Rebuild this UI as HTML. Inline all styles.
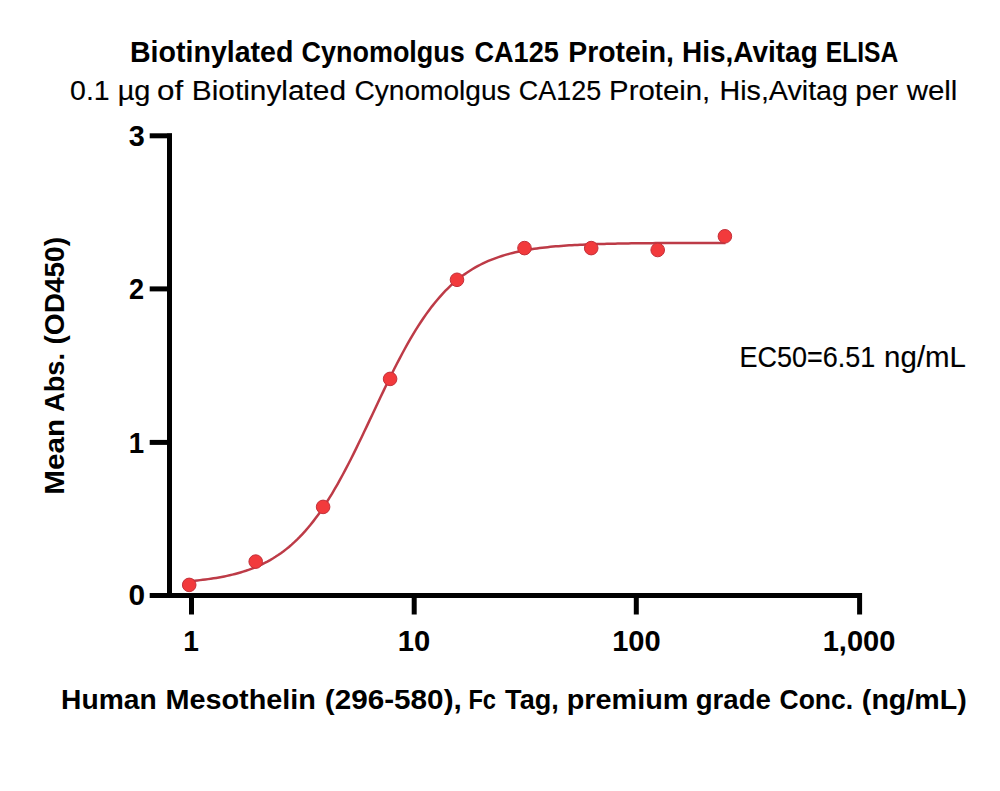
<!DOCTYPE html>
<html><head><meta charset="utf-8"><style>
html,body{margin:0;padding:0;background:#fff;overflow:hidden;}
svg{display:block;}
text{font-family:"Liberation Sans",sans-serif;fill:#000;}
</style></head><body>
<svg width="1000" height="791" viewBox="0 0 1000 791">
<rect width="1000" height="791" fill="#fff"/>
<text x="130.0" y="61.8" font-size="28.6" font-weight="bold" textLength="163.44" lengthAdjust="spacingAndGlyphs">Biotinylated</text>
<text x="301.56" y="61.8" font-size="28.6" font-weight="bold" textLength="163.23" lengthAdjust="spacingAndGlyphs">Cynomolgus</text>
<text x="474.45" y="61.8" font-size="28.6" font-weight="bold" textLength="84.41" lengthAdjust="spacingAndGlyphs">CA125</text>
<text x="568.32" y="61.8" font-size="28.6" font-weight="bold" textLength="105.63" lengthAdjust="spacingAndGlyphs">Protein,</text>
<text x="682.04" y="61.8" font-size="28.6" font-weight="bold" textLength="135.7" lengthAdjust="spacingAndGlyphs">His,Avitag</text>
<text x="825.78" y="61.8" font-size="28.6" font-weight="bold" textLength="72.57" lengthAdjust="spacingAndGlyphs">ELISA</text>
<text x="70.09" y="100.2" font-size="28.2" font-weight="normal" textLength="39.61" lengthAdjust="spacingAndGlyphs" stroke="#000" stroke-width="0.15">0.1</text>
<text x="117.65" y="100.2" font-size="28.2" font-weight="normal" textLength="32.72" lengthAdjust="spacingAndGlyphs" stroke="#000" stroke-width="0.15">&#181;g</text>
<text x="157.09" y="100.2" font-size="28.2" font-weight="normal" textLength="26.17" lengthAdjust="spacingAndGlyphs" stroke="#000" stroke-width="0.15">of</text>
<text x="191.78" y="100.2" font-size="28.2" font-weight="normal" textLength="154.25" lengthAdjust="spacingAndGlyphs" stroke="#000" stroke-width="0.15">Biotinylated</text>
<text x="354.5" y="100.2" font-size="28.2" font-weight="normal" textLength="156.17" lengthAdjust="spacingAndGlyphs" stroke="#000" stroke-width="0.15">Cynomolgus</text>
<text x="518.74" y="100.2" font-size="28.2" font-weight="normal" textLength="82.39" lengthAdjust="spacingAndGlyphs" stroke="#000" stroke-width="0.15">CA125</text>
<text x="609.12" y="100.2" font-size="28.2" font-weight="normal" textLength="101.13" lengthAdjust="spacingAndGlyphs" stroke="#000" stroke-width="0.15">Protein,</text>
<text x="719.47" y="100.2" font-size="28.2" font-weight="normal" textLength="128.55" lengthAdjust="spacingAndGlyphs" stroke="#000" stroke-width="0.15">His,Avitag</text>
<text x="855.39" y="100.2" font-size="28.2" font-weight="normal" textLength="42.89" lengthAdjust="spacingAndGlyphs" stroke="#000" stroke-width="0.15">per</text>
<text x="906.7" y="100.2" font-size="28.2" font-weight="normal" textLength="50.73" lengthAdjust="spacingAndGlyphs" stroke="#000" stroke-width="0.15">well</text>
<text x="61.1" y="709.3" font-size="28.2" font-weight="bold" textLength="95.55" lengthAdjust="spacingAndGlyphs">Human</text>
<text x="165.46" y="709.3" font-size="28.2" font-weight="bold" textLength="150.49" lengthAdjust="spacingAndGlyphs">Mesothelin</text>
<text x="324.75" y="709.3" font-size="28.2" font-weight="bold" textLength="137.03" lengthAdjust="spacingAndGlyphs">(296-580),</text>
<text x="468.42" y="709.3" font-size="28.2" font-weight="bold" textLength="27.64" lengthAdjust="spacingAndGlyphs">Fc</text>
<text x="505.1" y="709.3" font-size="28.2" font-weight="bold" textLength="53.69" lengthAdjust="spacingAndGlyphs">Tag,</text>
<text x="566.76" y="709.3" font-size="28.2" font-weight="bold" textLength="121.63" lengthAdjust="spacingAndGlyphs">premium</text>
<text x="695.72" y="709.3" font-size="28.2" font-weight="bold" textLength="75.13" lengthAdjust="spacingAndGlyphs">grade</text>
<text x="779.56" y="709.3" font-size="28.2" font-weight="bold" textLength="73.61" lengthAdjust="spacingAndGlyphs">Conc.</text>
<text x="861.89" y="709.3" font-size="28.2" font-weight="bold" textLength="104.86" lengthAdjust="spacingAndGlyphs">(ng/mL)</text>
<text x="739.41" y="367.1" font-size="28.6" font-weight="normal" textLength="135.93" lengthAdjust="spacingAndGlyphs" stroke="#000" stroke-width="0.15">EC50=6.51</text>
<text x="884.14" y="367.1" font-size="28.6" font-weight="normal" textLength="81.86" lengthAdjust="spacingAndGlyphs" stroke="#000" stroke-width="0.15">ng/mL</text>
<text x="128.8" y="146.0" font-size="28.8" font-weight="bold" textLength="16.02" lengthAdjust="spacingAndGlyphs">3</text>
<text x="128.96" y="299.4" font-size="28.8" font-weight="bold" textLength="15.1" lengthAdjust="spacingAndGlyphs">2</text>
<text x="128.68" y="452.5" font-size="28.8" font-weight="bold" textLength="15.4" lengthAdjust="spacingAndGlyphs">1</text>
<text x="128.56" y="605.4" font-size="28.8" font-weight="bold" textLength="16.59" lengthAdjust="spacingAndGlyphs">0</text>
<text x="183.25" y="650.9" font-size="28.8" font-weight="bold" textLength="15.65" lengthAdjust="spacingAndGlyphs">1</text>
<text x="397.67" y="650.9" font-size="28.8" font-weight="bold" textLength="32.47" lengthAdjust="spacingAndGlyphs">10</text>
<text x="612.18" y="650.9" font-size="28.8" font-weight="bold" textLength="48.58" lengthAdjust="spacingAndGlyphs">100</text>
<text x="822.68" y="650.9" font-size="28.8" font-weight="bold" textLength="72.81" lengthAdjust="spacingAndGlyphs">1,000</text>
<g transform="translate(64.4,0) rotate(-90)">
<text x="-494.84" y="0" font-size="27.7" font-weight="bold" textLength="75.85" lengthAdjust="spacingAndGlyphs">Mean</text>
<text x="-411.98" y="0" font-size="27.7" font-weight="bold" textLength="59.05" lengthAdjust="spacingAndGlyphs">Abs.</text>
<text x="-344.51" y="0" font-size="27.7" font-weight="bold" textLength="107.5" lengthAdjust="spacingAndGlyphs">(OD450)</text>
</g>
<g fill="none" stroke="#000" stroke-width="5" stroke-linecap="butt">
<path d="M169.5,133.5 V598"/>
<path d="M149.7,595.4 H862"/>
<path d="M149.7,135.8 H172"/>
<path d="M149.7,288.9 H172"/>
<path d="M149.7,442.4 H172"/>
<path d="M191.5,593 V614.5"/>
<path d="M414.2,593 V614.5"/>
<path d="M636.3,593 V614.5"/>
<path d="M859.6,593 V614.5"/>
</g>
<path d="M189.25,581.20 L191.94,580.96 L194.64,580.70 L197.33,580.42 L200.03,580.13 L202.72,579.82 L205.42,579.48 L208.11,579.13 L210.81,578.75 L213.50,578.34 L216.20,577.91 L218.89,577.45 L221.59,576.95 L224.28,576.43 L226.98,575.87 L229.67,575.27 L232.37,574.64 L235.06,573.96 L237.76,573.24 L240.45,572.47 L243.15,571.65 L245.84,570.79 L248.54,569.86 L251.23,568.88 L253.93,567.83 L256.62,566.72 L259.32,565.55 L262.01,564.29 L264.70,562.97 L267.40,561.56 L270.09,560.07 L272.79,558.49 L275.48,556.82 L278.18,555.05 L280.87,553.18 L283.57,551.21 L286.26,549.12 L288.96,546.93 L291.65,544.61 L294.35,542.17 L297.04,539.61 L299.74,536.92 L302.43,534.09 L305.13,531.13 L307.82,528.02 L310.52,524.78 L313.21,521.39 L315.91,517.85 L318.60,514.17 L321.30,510.33 L323.99,506.35 L326.69,502.23 L329.38,497.95 L332.08,493.53 L334.77,488.98 L337.47,484.28 L340.16,479.46 L342.85,474.50 L345.55,469.43 L348.24,464.25 L350.94,458.96 L353.63,453.58 L356.33,448.11 L359.02,442.57 L361.72,436.97 L364.41,431.31 L367.11,425.62 L369.80,419.89 L372.50,414.16 L375.19,408.42 L377.89,402.70 L380.58,397.00 L383.28,391.34 L385.97,385.73 L388.67,380.18 L391.36,374.70 L394.06,369.30 L396.75,364.00 L399.45,358.80 L402.14,353.72 L404.84,348.75 L407.53,343.90 L410.23,339.19 L412.92,334.61 L415.62,330.18 L418.31,325.88 L421.01,321.74 L423.70,317.73 L426.39,313.88 L429.09,310.18 L431.78,306.62 L434.48,303.21 L437.17,299.94 L439.87,296.82 L442.56,293.84 L445.26,290.99 L447.95,288.28 L450.65,285.70 L453.34,283.25 L456.04,280.91 L458.73,278.70 L461.43,276.60 L464.12,274.61 L466.82,272.73 L469.51,270.95 L472.21,269.26 L474.90,267.67 L477.60,266.17 L480.29,264.75 L482.99,263.41 L485.68,262.15 L488.38,260.96 L491.07,259.84 L493.77,258.79 L496.46,257.80 L499.16,256.87 L501.85,255.99 L504.54,255.16 L507.24,254.39 L509.93,253.66 L512.63,252.98 L515.32,252.34 L518.02,251.74 L520.71,251.17 L523.41,250.64 L526.10,250.15 L528.80,249.68 L531.49,249.24 L534.19,248.83 L536.88,248.45 L539.58,248.09 L542.27,247.75 L544.97,247.44 L547.66,247.14 L550.36,246.86 L553.05,246.61 L555.75,246.36 L558.44,246.13 L561.14,245.92 L563.83,245.72 L566.53,245.54 L569.22,245.36 L571.92,245.20 L574.61,245.04 L577.31,244.90 L580.00,244.77 L582.70,244.64 L585.39,244.52 L588.08,244.41 L590.78,244.31 L593.47,244.21 L596.17,244.12 L598.86,244.04 L601.56,243.96 L604.25,243.89 L606.95,243.82 L609.64,243.75 L612.34,243.69 L615.03,243.64 L617.73,243.59 L620.42,243.54 L623.12,243.49 L625.81,243.45 L628.51,243.41 L631.20,243.37 L633.90,243.33 L636.59,243.30 L639.29,243.27 L641.98,243.24 L644.68,243.21 L647.37,243.19 L650.07,243.16 L652.76,243.14 L655.46,243.12 L658.15,243.10 L660.85,243.08 L663.54,243.07 L666.23,243.05 L668.93,243.04 L671.62,243.02 L674.32,243.01 L677.01,243.00 L679.71,242.99 L682.40,242.98 L685.10,242.97 L687.79,242.96 L690.49,242.95 L693.18,242.94 L695.88,242.93 L698.57,242.93 L701.27,242.92 L703.96,242.91 L706.66,242.91 L709.35,242.90 L712.05,242.90 L714.74,242.89 L717.44,242.89 L720.13,242.88 L722.83,242.88 L725.52,242.88" fill="none" stroke="#bd3b47" stroke-width="2.5"/>
<g fill="#f23a3c" stroke="#c3303a" stroke-width="1">
<circle cx="189.2" cy="584.9" r="6.8"/>
<circle cx="255.7" cy="561.6" r="6.8"/>
<circle cx="323.1" cy="506.9" r="6.8"/>
<circle cx="390.1" cy="378.9" r="6.8"/>
<circle cx="457" cy="279.8" r="6.8"/>
<circle cx="524.5" cy="248.1" r="6.8"/>
<circle cx="591.2" cy="248.1" r="6.8"/>
<circle cx="657.7" cy="250" r="6.8"/>
<circle cx="724.9" cy="236.3" r="6.8"/>
</g>
</svg>
</body></html>
